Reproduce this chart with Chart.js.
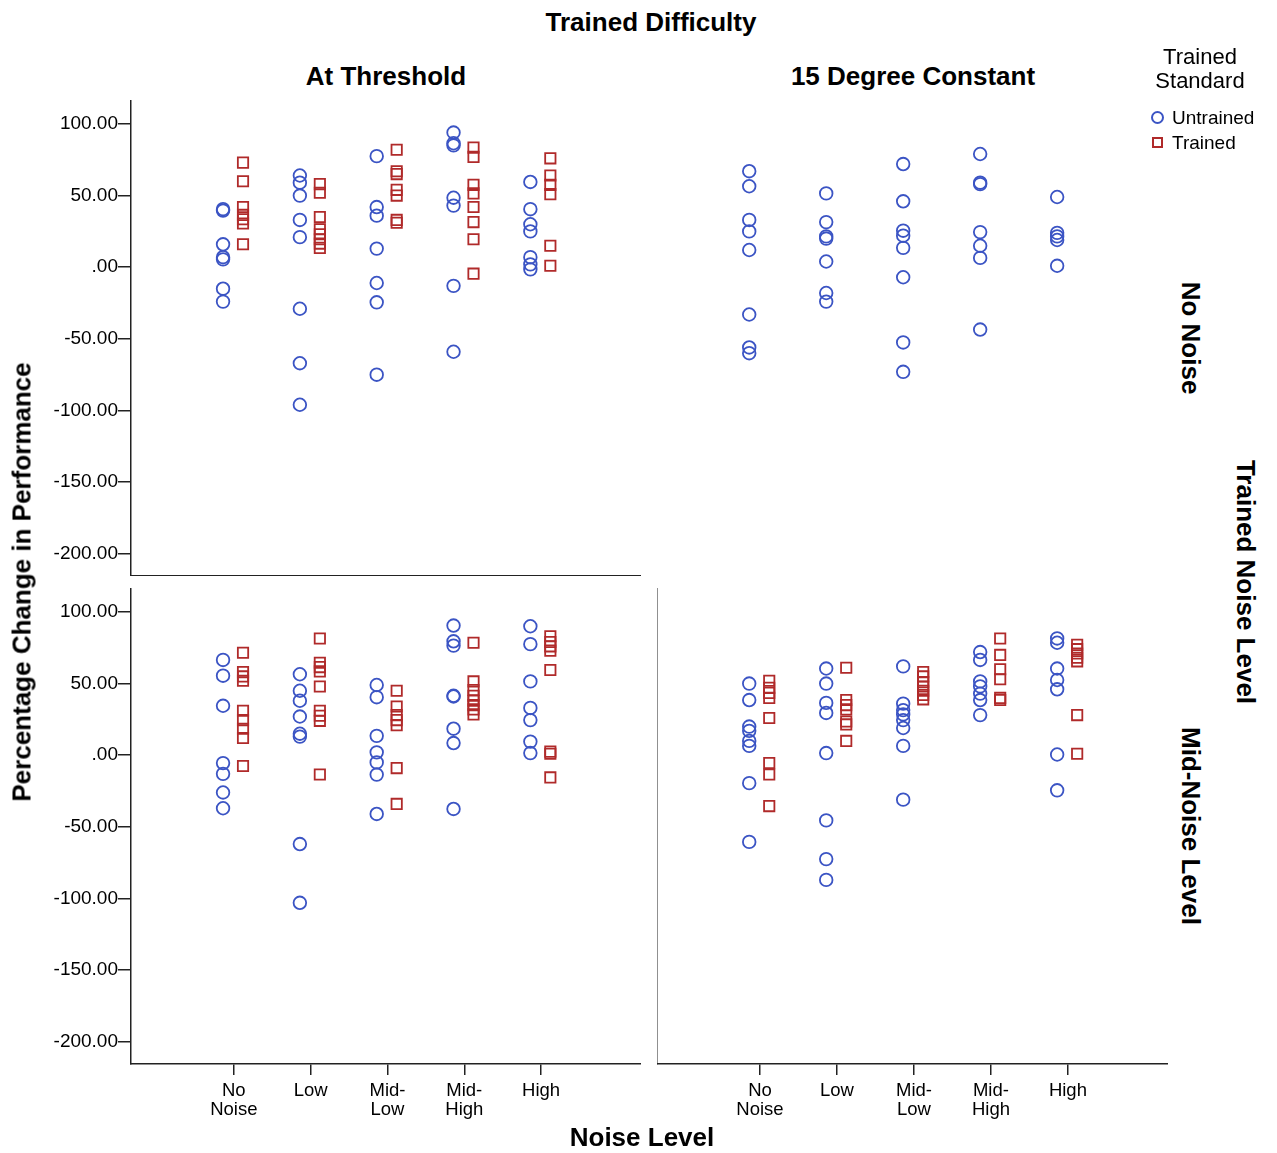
<!DOCTYPE html>
<html>
<head>
<meta charset="utf-8">
<title>Percentage Change in Performance</title>
<script src="https://cdn.jsdelivr.net/npm/chart.js@4/dist/chart.umd.min.js"></script>
<style>
	body{
		margin:0;
		background:#fff;
		font-family:"Liberation Sans", Arial, sans-serif;
	}
	#page{
		position:relative;
		width:1277px;
		height:1153px;
		overflow:hidden;
	}
	#page canvas{
		position:absolute;
	}
	.t{
		position:absolute;
		white-space:nowrap;
		color:#000;
		transform:translate(-50%,-50%);
	}
	.b{font-weight:bold;font-size:26px;}
	.r90{transform:translate(-50%,-50%) rotate(90deg);}
	.rm90{transform:translate(-50%,-50%) rotate(-90deg);}
	#legend{
		position:absolute;
		left:1140px;
		top:45px;
		width:120px;
		font-size:19px;
	}
	#legend .head{
		text-align:center;
		font-size:22px;
		line-height:24px;
	}
	#legend .row{
		position:relative;
		height:25px;
		line-height:25px;
		padding-left:32px;
	}
	.mk{
		position:absolute;
		box-sizing:border-box;
	}
	.mk.c{left:11px;top:6px;width:13px;height:13px;border:2px solid #3b54c4;border-radius:50%;}
	.mk.s{left:12px;top:7px;width:11px;height:11px;border:2px solid #b02a2a;}
</style>
</head>
<body>
<div id="page">
	<canvas id="c_tl" width="641" height="476" style="left:0;top:100px"></canvas>
	<canvas id="c_tr" width="511" height="476" style="left:657px;top:100px"></canvas>
	<canvas id="c_bl" width="641" height="537" style="left:0;top:588px"></canvas>
	<canvas id="c_br" width="511" height="537" style="left:657px;top:588px"></canvas>

	<div class="t b" style="left:651px;top:22px">Trained Difficulty</div>
	<div class="t b" style="left:386px;top:76px">At Threshold</div>
	<div class="t b" style="left:913px;top:76px">15 Degree Constant</div>
	<div class="t b r90" style="left:1190px;top:338px">No Noise</div>
	<div class="t b r90" style="left:1190px;top:826px">Mid-Noise Level</div>
	<div class="t b r90" style="left:1245px;top:582px">Trained Noise Level</div>
	<div class="t b rm90" style="left:22px;top:582px">Percentage Change in Performance</div>
	<div class="t b" style="left:642px;top:1137px">Noise Level</div>

	<div id="legend">
		<div class="head">Trained<br>Standard</div>
		<div style="height:12px"></div>
		<div class="row"><span class="mk c"></span>Untrained</div>
		<div class="row"><span class="mk s"></span>Trained</div>
	</div>
</div>
<script>
	// categories and ticks
	const categories=["No Noise","Low","Mid-Low","Mid-High","High"];
	const tickLabels=[["No","Noise"],["Low"],["Mid-","Low"],["Mid-","High"],["High"]];
	const yTicks=[100,50,0,-50,-100,-150,-200];

	// values per category
	// At Threshold / No Noise
	const tlUntrained=[
		[40.5,39.5,16,7,5.5,-15,-24],
		[64,59,50,33,21,-29,-67,-96],
		[77.5,42,36,13,-11,-24.5,-75],
		[94,86.5,85,48.5,43,-13,-59],
		[59.5,40.5,30,25,7,2,-1.5]
	];
	const tlTrained=[
		[73,60,42,36.5,33.5,30.5,16],
		[58,52,35,26.5,23,19.5,16.5,13.5],
		[82,67,65,54,50,33,31],
		[83.5,77,57.5,51.5,42,31.5,19.5,-4.5],
		[76,64,57.5,51,15,1]
	];
	// 15 Degree Constant / No Noise
	const trUntrained=[
		[67,56.5,33,25,12,-33,-56,-60],
		[51.5,31.5,21.5,20,4,-18,-24],
		[72,46,25.5,22,13.5,-7,-52.5,-73],
		[79,59,58,24.5,15,6.5,-43.5],
		[49,24,21.5,19,1]
	];
	const trTrained=[[],[],[],[],[]];
	// At Threshold / Mid-Noise Level
	const blUntrained=[
		[66.5,55.5,34.5,-5.5,-13,-26,-37],
		[56.5,45,38,27,15,13,-62,-103],
		[49,40.5,13.5,2,-5,-13.5,-41],
		[90.5,79.5,76.5,41.5,41,18.5,8.5,-37.5],
		[90,77.5,51.5,33,24.5,9.5,1.5]
	];
	const blTrained=[
		[71.5,58,55,52,31,24.5,18.5,12,-7.5],
		[81.5,64.5,61.5,58.5,48,31,27.5,24,-13.5],
		[45,34,28,24.5,21,-9,-34],
		[78.5,51.5,45.5,41.5,38,35,32,28.5],
		[83,79,76,73,59.5,2.5,1,-15.5]
	];
	// 15 Degree Constant / Mid-Noise Level
	const brUntrained=[
		[50,38.5,20,17,10,6.5,-19.5,-60.5],
		[60.5,50,36.5,29.5,1.5,-45.5,-72.5,-87],
		[62,36,31.5,28.5,24.5,19,6.5,-31],
		[72,66.5,51.5,48,43,38.5,28],
		[81.5,78.5,60.5,52.5,46,0.5,-24.5]
	];
	const brTrained=[
		[52,47,43.5,40,26,-5.5,-13.5,-35.5],
		[61,38.5,35,32,23.5,21.5,10],
		[58,55,51,48,45,42,39],
		[81.5,70,60,53,40,38.5],
		[77,74,71,68,65.5,28,1]
	];

	const blue="#3b54c4";
	const red="#b02a2a";
	const axisColor="#222";
	const FONT="'Liberation Sans', Arial, sans-serif";

	function toPoints(groups,shift){
		var pts=[];
		groups.forEach(function(vals,i){
			vals.forEach(function(v){pts.push({x:i+shift,y:v});});
		});
		return pts;
	}
	function fmt(v){
		return v.toFixed(2).replace(/^(-?)0\./,"$1.");
	}

	function makePanel(id,untrained,trained,showY,showX,bottom){
		var cfg={
			type:"scatter",
			data:{datasets:[
				{label:"Untrained",data:toPoints(untrained,-0.14),pointStyle:"circle",pointRadius:6.3,
				 borderColor:blue,backgroundColor:"rgba(0,0,0,0)",borderWidth:1.8,pointHoverRadius:6.3},
				{label:"Trained",data:toPoints(trained,0.12),pointStyle:"rect",pointRadius:7.3,
				 borderColor:red,backgroundColor:"rgba(0,0,0,0)",borderWidth:1.8,pointHoverRadius:7.3}
			]},
			options:{
				responsive:false,
				animation:false,
				events:[],
				layout:{padding:0,autoPadding:false},
				plugins:{legend:{display:false},tooltip:{enabled:false}},
				scales:{
					x:{
						type:"linear",
						min:-1.338,
						max:5.30,
						display:showX,
						afterBuildTicks:function(scale){scale.ticks=categories.map(function(c,i){return {value:i};});},
						afterFit:function(scale){
							scale.height=bottom?61:0;
							scale.paddingLeft=0;scale.paddingRight=0;
						},
						ticks:{
							display:bottom,
							autoSkip:false,
							maxRotation:0,
							padding:6,
							color:"#000",
							font:{family:FONT,size:18.5,lineHeight:1.05},
							callback:function(v){return tickLabels[v];}
						},
						grid:{display:true,drawOnChartArea:false,drawTicks:bottom,tickLength:11,color:axisColor,lineWidth:1.5},
						border:{display:true,color:axisColor,width:1.5}
					},
					y:{
						type:"linear",
						min:-215.5,
						max:116.7,
						display:showY!=="none",
						afterBuildTicks:function(scale){scale.ticks=yTicks.map(function(v){return {value:v};});},
						afterFit:function(scale){
							scale.width=(showY==="full")?131:0;
							scale.paddingTop=0;scale.paddingBottom=0;
						},
						ticks:{
							display:showY==="full",
							padding:0,
							color:"#000",
							font:{family:FONT,size:19},
							callback:function(v){return fmt(v);}
						},
						grid:{display:true,drawOnChartArea:false,drawTicks:showY==="full",tickLength:13,color:axisColor,lineWidth:1.5},
						border:{display:true,color:axisColor,width:1.5}
					}
				}
			}
		};
		return new Chart(document.getElementById(id),cfg);
	}

	makePanel("c_tl",tlUntrained,tlTrained,"full",true,false);
	makePanel("c_tr",trUntrained,trTrained,"none",false,false);
	makePanel("c_bl",blUntrained,blTrained,"full",true,true);
	makePanel("c_br",brUntrained,brTrained,"line",true,true);
</script>
</body>
</html>
